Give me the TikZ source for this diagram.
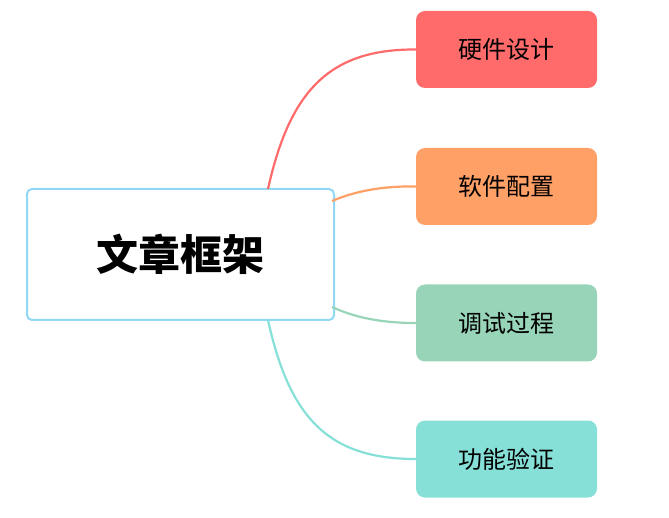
\documentclass[tikz,border=0pt]{standalone}
\usepackage{fontspec}
\newfontfamily\cjk{Noto Sans CJK SC}
\definecolor{cblue}{HTML}{90D8F4}
\definecolor{cred}{HTML}{FF6B6B}
\definecolor{corange}{HTML}{FFA066}
\definecolor{cgreen}{HTML}{98D4B8}
\definecolor{cteal}{HTML}{86E0D8}
\begin{document}
\begin{tikzpicture}[x=1pt,y=-1pt,
  leaf/.style={rounded corners=9pt,minimum width=181pt,minimum height=77pt,inner sep=0pt,font=\cjk\fontsize{24}{28}\selectfont},
  link/.style={line width=2.2pt}]
\useasboundingbox (0,0) rectangle (669,518);
\node[draw=cblue,line width=2pt,fill=white,rounded corners=5pt,minimum width=307pt,minimum height=131pt,font=\cjk\bfseries\fontsize{42}{48}\selectfont] (c) at (180.5,254.5) {文章框架};
\node[leaf,fill=cred] (a) at (506.5,49.5) {硬件设计};
\node[leaf,fill=corange] (b) at (506.5,186.5) {软件配置};
\node[leaf,fill=cgreen] (d) at (506.5,323) {调试过程};
\node[leaf,fill=cteal] (e) at (506.5,459) {功能验证};
\coordinate (c1) at (268,189);
\coordinate (c2) at (332,201);
\coordinate (c3) at (332,307);
\coordinate (c4) at (268,320);
\draw[link,cred] (c1) .. controls (290,90) and (330,49) .. (a.west);
\draw[link,corange] (c2) .. controls (360,189) and (390,186) .. (b.west);
\draw[link,cgreen] (c3) .. controls (360,320) and (390,323) .. (d.west);
\draw[link,cteal] (c4) .. controls (290,420) and (330,459) .. (e.west);
\end{tikzpicture}
\end{document}
